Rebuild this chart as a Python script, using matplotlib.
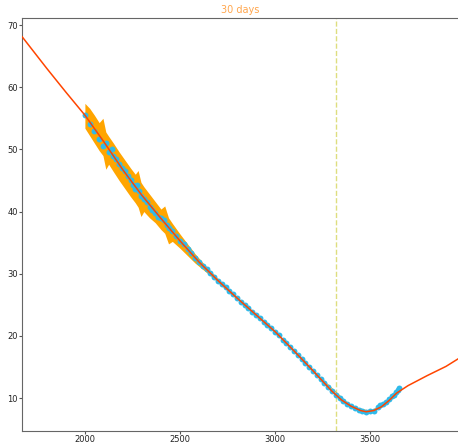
import numpy as np
import matplotlib
matplotlib.use('Agg')
import matplotlib.pyplot as plt

# fitted curve
fit_x = [1670, 1800, 1900, 2000, 2100, 2200, 2300, 2400, 2500, 2600, 2700, 2800, 2900,
         3000, 3100, 3200, 3300, 3350, 3400, 3450, 3480, 3520, 3560, 3600, 3640, 3700,
         3800, 3900, 3963]
fit_y = [68.1, 63.0, 59.2, 55.5, 51.2, 46.7, 42.6, 38.9, 35.3, 31.9, 28.9, 26.1, 23.4,
         20.7, 17.6, 14.4, 11.1, 9.7, 8.7, 8.0, 7.8, 8.0, 8.6, 9.6, 10.8, 12.0,
         13.6, 15.1, 16.3]

# observations
obs_x = [2000, 2025, 2050, 2075, 2095, 2110, 2125, 2140, 2150, 2165, 2180, 2195, 2210,
         2225, 2240, 2255, 2265, 2275, 2285, 2295, 2310, 2325, 2340, 2355, 2370, 2385,
         2400, 2415, 2430, 2445, 2460,
         2480, 2500, 2520, 2540, 2560, 2580, 2600, 2620, 2640, 2660, 2680, 2700, 2720,
         2740, 2760, 2780, 2800, 2820, 2840, 2860, 2880, 2900, 2920, 2940, 2960, 2980,
         3000, 3020, 3040, 3060, 3080, 3100, 3120, 3140, 3160, 3180, 3200, 3220, 3240,
         3260, 3280, 3300, 3320, 3340, 3360, 3380, 3400, 3420, 3440, 3460, 3480, 3500,
         3520, 3540, 3555, 3570, 3585, 3600, 3615, 3625, 3635, 3645, 3655]
obs_y = [55.5, 54.1, 53.0, 51.6, 50.6, 51.0, 49.5, 50.1, 49.0, 48.4, 47.6, 47.0, 46.5,
         45.7, 45.0, 44.3, 43.7, 44.2, 43.3, 42.5, 42.0, 41.6, 40.8, 40.3, 39.8, 39.2,
         38.9, 38.6, 37.8, 37.4, 36.9,
         36.0, 35.3, 34.7, 33.9, 33.3, 32.5, 31.9, 31.3, 30.7, 30.1, 29.5, 28.9, 28.4,
         27.8, 27.2, 26.7, 26.1, 25.5, 25.0, 24.5, 23.9, 23.4, 22.9, 22.3, 21.8, 21.2,
         20.7, 20.1, 19.4, 18.8, 18.2, 17.6, 17.0, 16.3, 15.7, 15.0, 14.4, 13.7, 13.1,
         12.4, 11.8, 11.1, 10.5, 10.0, 9.5, 9.1, 8.7, 8.4, 8.1, 7.9, 7.8, 7.9,
         8.0, 8.5, 8.9, 9.0, 9.4, 9.8, 10.3, 10.5, 11.0, 11.3, 11.6]

# uncertainty band
band_x = [2000, 2025, 2050, 2075, 2095, 2110, 2125, 2150, 2180, 2210, 2240, 2265, 2280,
          2295, 2310, 2340, 2370, 2400, 2420, 2440, 2460, 2500, 2540, 2580, 2620, 2660,
          2700, 2800, 2900, 3000, 3200, 3400, 3500, 3600, 3650]
band_hi = [57.4, 56.6, 55.5, 54.3, 55.0, 52.8, 52.1, 51.0, 49.6, 48.3, 47.0, 46.0, 46.6,
           44.7, 44.0, 42.8, 41.6, 40.4, 40.9, 39.0, 38.1, 36.4, 34.8, 33.2, 31.8, 30.5,
           29.2, 26.3, 23.5, 20.8, 14.5, 8.8, 8.0, 9.8, 11.4]
band_lo = [53.4, 52.2, 51.0, 49.8, 49.0, 46.8, 47.6, 46.4, 45.0, 43.7, 42.4, 41.4, 40.7,
           39.2, 40.0, 39.0, 38.2, 37.1, 36.5, 34.8, 35.2, 34.1, 32.9, 31.7, 30.7, 29.7,
           28.6, 25.9, 23.3, 20.6, 14.3, 8.6, 7.8, 9.4, 11.0]

today = 3321
title = '30 days'

fig = plt.figure(figsize=(4.58, 4.43), dpi=100)
ax = fig.add_axes([0.048, 0.027, 0.952, 0.932])

ax.axvline(today, color='y', alpha=0.5, linestyle='--', linewidth=1.0, zorder=1)
ax.fill_between(band_x, band_lo, band_hi, color='orange', linewidth=0, zorder=2)
ax.scatter(obs_x, obs_y, s=18, color='#2fbaea', linewidths=0, zorder=3)
ax.plot(fit_x, fit_y, color='orangered', linewidth=1.1, zorder=4)

ax.set_xlim(1669, 3963)
ax.set_ylim(4.7, 71.1)
ax.set_xticks([2000, 2500, 3000, 3500])
ax.set_yticks([10, 20, 30, 40, 50, 60, 70])
ax.tick_params(labelsize=6, colors='#555555', labelcolor='#222222', length=2,
               width=0.8, pad=1)
for s in ['left', 'bottom', 'top']:
    ax.spines[s].set_color('#666666')
ax.spines['right'].set_visible(False)
ax.set_title(title, color='#ffa64d', fontsize=7, pad=4)

plt.savefig('out.png', dpi=100)
